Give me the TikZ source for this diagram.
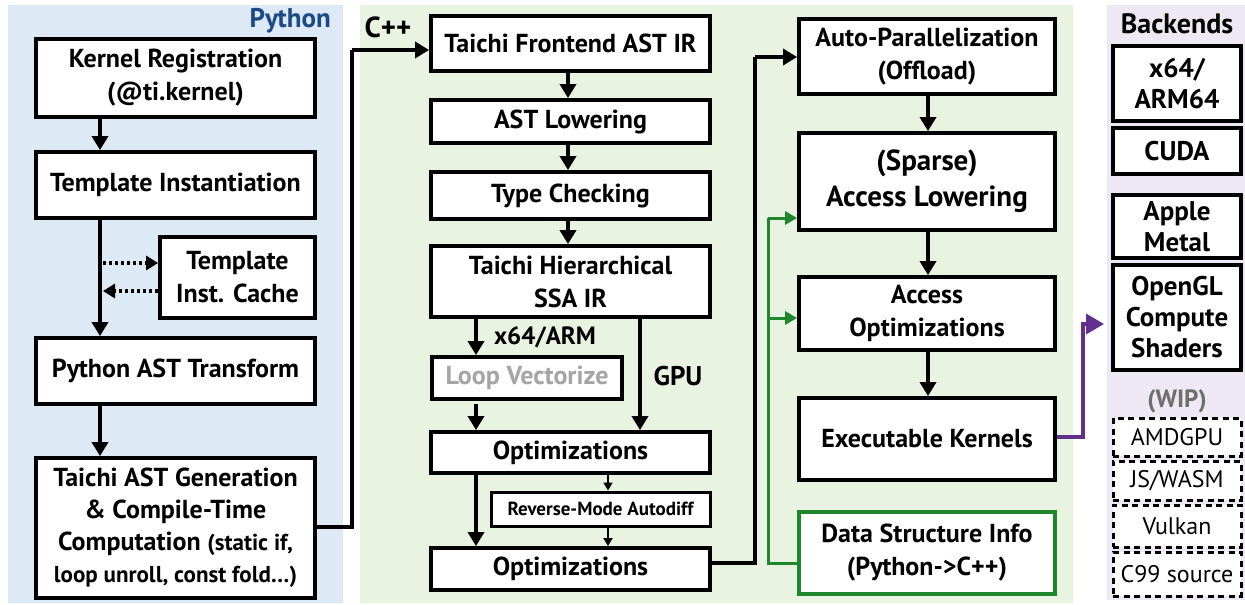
\documentclass[tikz,border=0pt]{standalone}
\usepackage{fontspec}
\setmainfont{PT Sans}
\usetikzlibrary{arrows.meta}
\definecolor{pybg}{RGB}{221,233,244}
\definecolor{cppbg}{RGB}{233,243,226}
\definecolor{bkbg}{RGB}{238,231,244}
\definecolor{pyblue}{RGB}{28,74,135}
\definecolor{dsgreen}{RGB}{30,135,45}
\definecolor{kpurple}{RGB}{96,48,140}
\definecolor{lvgray}{RGB}{165,165,165}
\definecolor{wipgray}{RGB}{110,110,110}
\tikzset{
  box/.style={draw=black, line width=3.8pt, fill=white, align=center, inner sep=1pt,
    font=\fontsize{26}{33}\selectfont\bfseries},
  smallbox/.style={box, line width=3pt, font=\fontsize{19}{22}\selectfont\bfseries},
  bkbox/.style={box, font=\fontsize{27}{31}\selectfont\bfseries},
  wipbox/.style={draw=black, line width=3pt, dash pattern=on 6pt off 4.5pt, fill=white,
    align=center, inner sep=0pt, font=\fontsize{24}{28}\selectfont},
  conn/.style={line width=3.4pt, -{Triangle[length=14pt,width=16pt]}},
  thinconn/.style={line width=1.8pt, -{Triangle[length=8pt,width=9pt]}},
  dotconn/.style={line width=3.2pt, dash pattern=on 3pt off 3pt, -{Triangle[length=12pt,width=14pt]}},
  greenconn/.style={draw=dsgreen, line width=3pt, -{Triangle[length=12pt,width=13pt,fill=dsgreen]}},
  purpleconn/.style={draw=kpurple, line width=3.6pt, -{Triangle[length=18pt,width=20pt,fill=kpurple]}},
  lbl/.style={font=\fontsize{26}{30}\selectfont\bfseries, inner sep=0pt},
}
\begin{document}
\begin{tikzpicture}[x=1pt,y=-1pt]
\useasboundingbox (0,0) rectangle (1245,605);
% backgrounds
\fill[pybg] (8,5) rectangle (343,603);
\fill[cppbg] (360,5) rectangle (1073,603);
\fill[bkbg] (1107,5) rectangle (1245,600);

% labels
\node[lbl, text=pyblue, anchor=east, font=\fontsize{27}{30}\selectfont\bfseries] (pylbl) at (331,21) {Python};
\node[lbl, font=\fontsize{29}{30}\selectfont\bfseries] (cpplbl) at (388,27) {C++};
\node[lbl, font=\fontsize{28}{30}\selectfont\bfseries] (backlbl) at (1177,24) {Backends};
\node[lbl, text=wipgray, font=\fontsize{25}{30}\selectfont\bfseries] (wiplbl) at (1177,401) {(WIP)};

% Python column
\node[box, minimum width=279pt, minimum height=78pt] (kr) at (175.5,78) {Kernel Registration\\(@ti.kernel)};
\node[box, minimum width=279pt, minimum height=66pt] (ti) at (175.5,185) {Template Instantiation};
\node[box, minimum width=155pt, minimum height=81pt] (cache) at (237.5,277.5) {Template\\Inst. Cache};
\node[box, minimum width=279pt, minimum height=66pt] (pat) at (175.5,371) {Python AST Transform};
\node[box, minimum width=279pt, minimum height=140pt, font=\fontsize{26}{32}\selectfont\bfseries] (tag) at (175.5,528) {Taichi AST Generation\\\& Compile-Time\\Computation {\fontsize{23}{32}\selectfont (static if,}\\{\fontsize{23}{32}\selectfont loop unroll, const fold\ldots)}};

\draw[conn] (kr.south -| 100,0) -- (ti.north -| 100,0);
\draw[conn] (ti.south -| 100,0) -- (pat.north -| 100,0);
\coordinate (dotA) at (103,263);
\coordinate (dotB) at (103,291);
\draw[dotconn] (dotA) -- (cache.west |- dotA);
\draw[dotconn] (cache.west |- dotB) -- (dotB);
\draw[conn] (pat.south -| 100,0) -- (tag.north -| 100,0);

% C++ middle column
\node[box, minimum width=279pt, minimum height=55pt] (fe) at (570.5,43.5) {Taichi Frontend AST IR};
\node[box, minimum width=279pt, minimum height=43pt] (astl) at (570.5,121.5) {AST Lowering};
\node[box, minimum width=279pt, minimum height=47pt] (tc) at (570.5,195.5) {Type Checking};
\node[box, minimum width=279pt, minimum height=71pt] (ssa) at (570.5,281.5) {Taichi Hierarchical\\SSA IR};
\node[box, minimum width=190pt, minimum height=42pt, text=lvgray] (lv) at (527,378) {Loop Vectorize};
\node[box, minimum width=279pt, minimum height=41pt] (opt1) at (570.5,452.5) {Optimizations};
\node[smallbox, minimum width=219pt, minimum height=34pt] (rm) at (600.5,509) {Reverse-Mode Autodiff};
\node[box, minimum width=279pt, minimum height=42pt] (opt2) at (570.5,569) {Optimizations};

\node[lbl, font=\fontsize{25}{30}\selectfont\bfseries] (x64lbl) at (545,337) {x64/ARM};
\node[lbl, font=\fontsize{27}{30}\selectfont\bfseries] (gpulbl) at (678,376) {GPU};

\coordinate (tagout) at (352,527);
\draw[line width=3.4pt] (tag.east |- tagout) -- (tagout) -- (352,50) coordinate (tagup);
\draw[conn] (tagup) -- (fe.west |- tagup);

\draw[conn] (fe.south -| 568,0) -- (astl.north -| 568,0);
\draw[conn] (astl.south -| 568,0) -- (tc.north -| 568,0);
\draw[conn] (tc.south -| 568,0) -- (ssa.north -| 568,0);
\draw[conn] (ssa.south -| 476,0) -- (lv.north -| 476,0);
\draw[conn] (ssa.south -| 640,0) -- (opt1.north -| 640,0);
\draw[conn] (lv.south -| 476,0) ++(0,3) -- (opt1.north -| 476,0);
\draw[conn] (opt1.south -| 476,0) -- (opt2.north -| 476,0);
\draw[thinconn] (opt1.south -| 608,0) -- (rm.north -| 608,0);
\draw[thinconn] (rm.south -| 608,0) -- (opt2.north -| 608,0);

% right column
\node[box, minimum width=256pt, minimum height=75pt] (ap) at (927,56.5) {Auto-Parallelization\\(Offload)};
\node[box, minimum width=256pt, minimum height=97pt, font=\fontsize{29}{36}\selectfont\bfseries] (sal) at (927,181.5) {(Sparse)\\Access Lowering};
\node[box, minimum width=256pt, minimum height=73pt] (ao) at (927,313.5) {Access\\Optimizations};
\node[box, minimum width=256pt, minimum height=82pt] (ek) at (927,439) {Executable Kernels};
\node[box, draw=dsgreen, minimum width=256pt, minimum height=82pt] (dsi) at (927,553) {Data Structure Info\\(Python->C++)};

\coordinate (optout) at (755,563);
\draw[line width=3.4pt] (opt2.east |- optout) -- (optout) -- (755,57) coordinate (optup);
\draw[conn] (optup) -- (ap.west |- optup);

\draw[conn] (ap.south -| 928,0) -- (sal.north -| 928,0);
\draw[conn] (sal.south -| 928,0) -- (ao.north -| 928,0);
\draw[conn] (ao.south -| 928,0) -- (ek.north -| 928,0);

\coordinate (gcorner) at (768,563);
\coordinate (gtop) at (768,218);
\coordinate (gmid) at (768,318);
\draw[draw=dsgreen, line width=3pt] (dsi.west |- gcorner) -- (gcorner) -- (gtop);
\draw[greenconn] (gtop) -- (sal.west |- gtop);
\draw[greenconn] (gmid) -- (ao.west |- gmid);

% backends
\node[bkbox, minimum width=128pt, minimum height=75pt] (bx64) at (1177,83.5) {x64/\\ARM64};
\node[bkbox, minimum width=128pt, minimum height=46pt] (bcuda) at (1177,151) {CUDA};
\node[bkbox, minimum width=128pt, minimum height=63pt] (bmetal) at (1177,226.5) {Apple\\Metal};
\node[bkbox, minimum width=128pt, minimum height=105pt] (bgl) at (1177,317.5) {OpenGL\\Compute\\Shaders};
\node[wipbox, minimum width=128pt, minimum height=38pt] (bamd) at (1177,437) {AMDGPU};
\node[wipbox, minimum width=128pt, minimum height=39pt] (bjs) at (1177,480.5) {JS/WASM};
\node[wipbox, minimum width=128pt, minimum height=42pt] (bvk) at (1177,526) {Vulkan};
\node[wipbox, minimum width=128pt, minimum height=44pt] (bc99) at (1177,574) {C99 source};

\coordinate (pcorner) at (1083,437);
\coordinate (ptop) at (1083,324);
\coordinate (ptip) at (1104,324);
\draw[draw=kpurple, line width=3.6pt] (ek.east |- pcorner) -- (pcorner) -- (ptop);
\draw[purpleconn] (ptop) ++(0,1.8) -- ++(0,-1.8) -- (ptip);
\end{tikzpicture}
\end{document}
